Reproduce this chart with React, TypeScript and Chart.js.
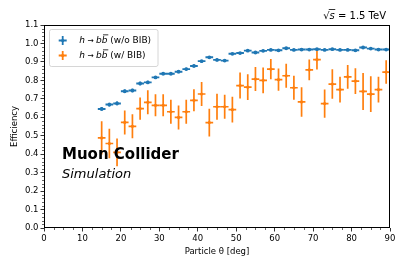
import React, { useEffect, useRef } from "react";
import { Chart, registerables } from "chart.js";

Chart.register(...registerables);

// ---------------- data ----------------
const thetaCenters = [15, 17, 19, 21, 23, 25, 27, 29, 31, 33, 35, 37, 39, 41, 43, 45, 47, 49, 51, 53, 55, 57, 59, 61, 63, 65, 67, 69, 71, 73, 75, 77, 79, 81, 83, 85, 87, 89];
const binHalfWidth = 1;

const effNoBIB = [0.645, 0.669, 0.675, 0.741, 0.745, 0.783, 0.789, 0.816, 0.836, 0.836, 0.847, 0.861, 0.878, 0.904, 0.925, 0.911, 0.907, 0.944, 0.948, 0.961, 0.951, 0.96, 0.965, 0.963, 0.974, 0.965, 0.967, 0.967, 0.969, 0.965, 0.969, 0.965, 0.965, 0.963, 0.978, 0.972, 0.967, 0.967];
const errNoBIB = [0.01, 0.01, 0.01, 0.009, 0.009, 0.009, 0.009, 0.008, 0.008, 0.008, 0.008, 0.008, 0.008, 0.007, 0.007, 0.007, 0.007, 0.006, 0.006, 0.006, 0.006, 0.006, 0.006, 0.006, 0.006, 0.006, 0.006, 0.006, 0.006, 0.006, 0.006, 0.006, 0.006, 0.006, 0.006, 0.006, 0.006, 0.006];

const effBIB = [0.488, 0.458, 0.41, 0.572, 0.551, 0.647, 0.681, 0.665, 0.665, 0.63, 0.599, 0.63, 0.692, 0.726, 0.571, 0.657, 0.657, 0.641, 0.772, 0.763, 0.807, 0.8, 0.861, 0.804, 0.825, 0.76, 0.683, 0.857, 0.912, 0.674, 0.78, 0.75, 0.819, 0.796, 0.74, 0.725, 0.75, 0.845];
const errBIB = [0.09, 0.08, 0.075, 0.065, 0.065, 0.06, 0.065, 0.06, 0.06, 0.065, 0.065, 0.065, 0.06, 0.065, 0.075, 0.07, 0.065, 0.07, 0.07, 0.07, 0.065, 0.07, 0.055, 0.06, 0.065, 0.065, 0.08, 0.056, 0.053, 0.077, 0.08, 0.07, 0.064, 0.07, 0.1, 0.097, 0.07, 0.064];

const xTickValues = [0, 10, 20, 30, 40, 50, 60, 70, 80, 90];
const yTickLabels = ["0.0", "0.1", "0.2", "0.3", "0.4", "0.5", "0.6", "0.7", "0.8", "0.9", "1.0", "1.1"];

const seriesLabels = ["(w/o BIB)", "(w/ BIB)"];
const xTitle = "Particle θ [deg]";
const yTitle = "Efficiency";
const energyLabel = "= 1.5 TeV";
const expLabel = "Muon Collider";
const simLabel = "Simulation";

const BLUE = "#1f77b4";
const ORANGE = "#ff7f0e";
const FONT = "'DejaVu Sans', sans-serif";

// ---------------- plugins ----------------
const errorBarPlugin = {
  id: "errorBars",
  beforeDatasetDraw(chart: any, args: any) {
    const ds = chart.data.datasets[args.index];
    const errs: number[] = ds.yErr;
    if (!errs) return;
    const { ctx, scales } = chart;
    const xs = scales.x, ys = scales.y;
    ctx.save();
    ctx.strokeStyle = ds.borderColor;
    ctx.lineCap = "butt";
    ds.data.forEach((p: any, i: number) => {
      const px = xs.getPixelForValue(p.x);
      const py = ys.getPixelForValue(p.y);
      const x0 = xs.getPixelForValue(p.x - binHalfWidth);
      const x1 = xs.getPixelForValue(p.x + binHalfWidth);
      const yTop = ys.getPixelForValue(p.y + errs[i]);
      const yBot = ys.getPixelForValue(p.y - errs[i]);
      ctx.lineWidth = ds.errWidth;
      ctx.beginPath();
      ctx.moveTo(x0, py);
      ctx.lineTo(x1, py);
      ctx.moveTo(px, yTop);
      ctx.lineTo(px, yBot);
      ctx.stroke();
    });
    ctx.restore();
  },
};

function drawSegs(ctx: CanvasRenderingContext2D, x: number, y: number, segs: { t: string; f: string; bar?: boolean }[]) {
  let cx = x;
  for (const s of segs) {
    ctx.font = s.f;
    const w = ctx.measureText(s.t).width;
    ctx.fillText(s.t, cx, y);
    if (s.bar) {
      const m = ctx.measureText(s.t);
      const top = y - m.actualBoundingBoxAscent - 1.5;
      ctx.save();
      ctx.lineWidth = 0.8;
      ctx.beginPath();
      ctx.moveTo(cx + 1.2, top);
      ctx.lineTo(cx + w + 0.8, top);
      ctx.stroke();
      ctx.restore();
    }
    cx += w;
  }
  return cx;
}

const decorPlugin = {
  id: "decor",
  afterDraw(chart: any) {
    const { ctx, chartArea: a, scales } = chart;
    const xs = scales.x, ys = scales.y;
    ctx.save();
    // minor ticks
    ctx.strokeStyle = "#000";
    ctx.lineWidth = 0.6;
    ctx.beginPath();
    for (let k = 0; k <= 36; k++) {
      if (k % 4 === 0) continue;
      const px = Math.round(xs.getPixelForValue(k * 2.5)) + 0.5;
      ctx.moveTo(px, a.bottom);
      ctx.lineTo(px, a.bottom + 2);
    }
    for (let k = 0; k <= 55; k++) {
      if (k % 5 === 0) continue;
      const py = Math.round(ys.getPixelForValue(k * 0.02)) + 0.5;
      ctx.moveTo(a.left, py);
      ctx.lineTo(a.left - 2, py);
    }
    ctx.stroke();
    // frame
    ctx.lineWidth = 1;
    ctx.strokeStyle = "#000";
    ctx.strokeRect(a.left + 0.5, a.top + 0.5, a.right - a.left - 1, a.bottom - a.top - 1);

    // legend
    const lx = 49.5, ly = 29.5, lw = 108.5, lh = 37;
    ctx.fillStyle = "rgba(255,255,255,0.8)";
    ctx.strokeStyle = "#cccccc";
    ctx.lineWidth = 0.8;
    ctx.beginPath();
    (ctx as any).roundRect(lx, ly, lw, lh, 2);
    ctx.fill();
    ctx.stroke();
    const rows = [
      { c: BLUE, y: 40.5, label: seriesLabels[0] },
      { c: ORANGE, y: 55.5, label: seriesLabels[1] },
    ];
    for (const r of rows) {
      const mx = 62.7;
      ctx.strokeStyle = r.c;
      ctx.lineWidth = 1.8;
      ctx.beginPath();
      ctx.moveTo(mx - 4, r.y);
      ctx.lineTo(mx + 4, r.y);
      ctx.moveTo(mx, r.y - 4.5);
      ctx.lineTo(mx, r.y + 4.5);
      ctx.stroke();
      ctx.fillStyle = r.c;
      ctx.beginPath();
      ctx.arc(mx, r.y, 1.6, 0, Math.PI * 2);
      ctx.fill();
      ctx.fillStyle = "#000";
      ctx.strokeStyle = "#000";
      ctx.textBaseline = "middle";
      ctx.textAlign = "left";
      drawSegs(ctx, 79.3, r.y + 0.5, [
        { t: "h", f: `oblique 9px ${FONT}` },
        { t: " → ", f: `7.5px ${FONT}` },
        { t: "b", f: `oblique 9px ${FONT}` },
        { t: "b", f: `oblique 9px ${FONT}`, bar: true },
        { t: " " + r.label, f: `9px ${FONT}` },
      ]);
    }

    // energy label (top right)
    ctx.fillStyle = "#000";
    ctx.strokeStyle = "#000";
    ctx.textBaseline = "alphabetic";
    ctx.textAlign = "left";
    ctx.font = `10px ${FONT}`;
    const restW = ctx.measureText(" " + energyLabel).width;
    ctx.font = `oblique 10px ${FONT}`;
    const sW = ctx.measureText("s").width;
    ctx.font = `10px ${FONT}`;
    const rootW = ctx.measureText("√").width;
    const startX = 386 - restW - sW - rootW;
    const base = 19;
    const endS = drawSegs(ctx, startX, base, [
      { t: "√", f: `10px ${FONT}` },
      { t: "s", f: `oblique 10px ${FONT}` },
    ]);
    ctx.lineWidth = 0.8;
    ctx.beginPath();
    ctx.moveTo(startX + rootW - 0.8, base - 9.5);
    ctx.lineTo(endS + 0.5, base - 9.5);
    ctx.stroke();
    ctx.font = `10px ${FONT}`;
    ctx.fillText(" " + energyLabel, endS, base);

    // experiment labels
    ctx.font = `bold 15px ${FONT}`;
    ctx.fillText(expLabel, 62, 158.5);
    ctx.font = `oblique 13px ${FONT}`;
    ctx.fillText(simLabel, 62, 177.5);
    ctx.restore();
  },
};

export default function App() {
  const ref = useRef<HTMLCanvasElement>(null);
  useEffect(() => {
    document.body.style.margin = "0";
    const canvas = ref.current!;
    const chart = new Chart(canvas, {
      type: "scatter",
      data: {
        datasets: [
          {
            label: "h → bb̄ (w/o BIB)",
            data: thetaCenters.map((x, i) => ({ x, y: effNoBIB[i] })),
            borderColor: BLUE,
            backgroundColor: BLUE,
            pointRadius: 1.9,
            pointBorderWidth: 0,
            yErr: errNoBIB,
            errWidth: 1.9,
          } as any,
          {
            label: "h → bb̄ (w/ BIB)",
            data: thetaCenters.map((x, i) => ({ x, y: effBIB[i] })),
            borderColor: ORANGE,
            backgroundColor: ORANGE,
            pointRadius: 1.6,
            pointBorderWidth: 0,
            yErr: errBIB,
            errWidth: 1.7,
          } as any,
        ],
      },
      options: {
        animation: false,
        responsive: false,
        maintainAspectRatio: false,
        layout: { padding: { left: 0, right: 17, top: 25, bottom: 0 } },
        plugins: {
          legend: { display: false },
          tooltip: { enabled: false },
        },
        scales: {
          x: {
            type: "linear",
            min: 0,
            max: 90,
            afterBuildTicks: (s: any) => {
              s.ticks = xTickValues.map((v) => ({ value: v }));
            },
            ticks: {
              color: "#000",
              font: { family: FONT, size: 8.5 },
              padding: 2,
              maxRotation: 0,
              autoSkip: false,
              callback: (v: any) => String(v),
            },
            grid: { drawOnChartArea: false, drawTicks: true, tickLength: 3.5, color: "#000", lineWidth: 0.8 },
            border: { display: false },
            title: {
              display: true,
              text: xTitle,
              color: "#000",
              font: { family: FONT, size: 8.5 },
              padding: { top: 0, bottom: 14 },
            },
            afterFit: (s: any) => {
              s.height = 43;
            },
          },
          y: {
            type: "linear",
            min: 0,
            max: 1.1,
            afterBuildTicks: (s: any) => {
              s.ticks = yTickLabels.map((_, i) => ({ value: i / 10 }));
            },
            ticks: {
              color: "#000",
              font: { family: FONT, size: 8.5 },
              padding: 2,
              autoSkip: false,
              callback: (_v: any, i: number) => yTickLabels[i],
            },
            grid: { drawOnChartArea: false, drawTicks: true, tickLength: 3.5, color: "#000", lineWidth: 0.8 },
            border: { display: false },
            title: {
              display: true,
              text: yTitle,
              color: "#000",
              font: { family: FONT, size: 8.5 },
              padding: { top: 10, bottom: 0 },
            },
            afterFit: (s: any) => {
              s.width = 44;
            },
          },
        },
      },
      plugins: [errorBarPlugin, decorPlugin],
    });
    return () => chart.destroy();
  }, []);
  return (
    <div style={{ width: 407, height: 271 }}>
      <canvas ref={ref} width={407} height={271} />
    </div>
  );
}
